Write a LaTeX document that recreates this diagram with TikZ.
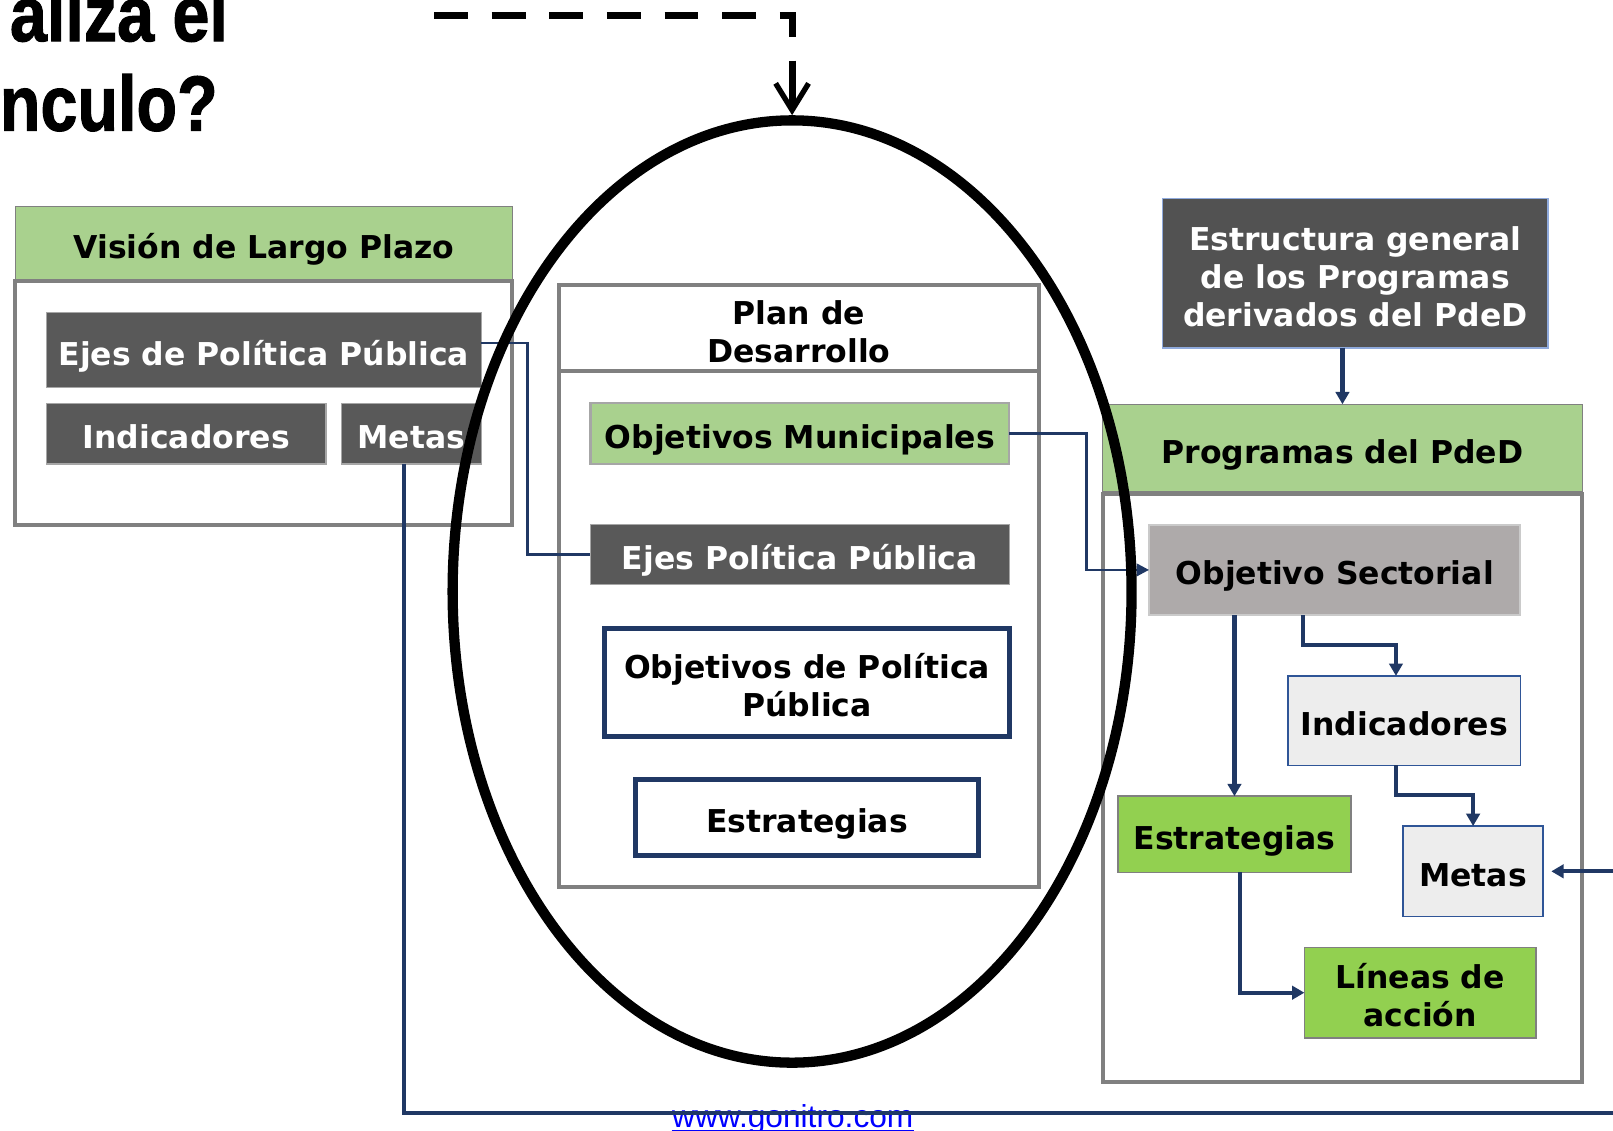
\documentclass[tikz,border=0pt]{standalone}
\usepackage{fontspec}
\usepackage{graphicx}
\setmainfont{DejaVu Sans}
\newfontfamily\headfont{Liberation Sans}[BoldFeatures={FakeBold=1.5}]
\newfontfamily\footfont{Liberation Sans}
\usetikzlibrary{arrows.meta,shapes.geometric,calc}

\definecolor{lgreen}{HTML}{A9D18E}
\definecolor{bgreen}{HTML}{92D050}
\definecolor{dkgray}{HTML}{595959}
\definecolor{stgray}{HTML}{525252}
\definecolor{sectgray}{HTML}{AEAAAA}
\definecolor{pale}{HTML}{EDEDED}
\definecolor{navy}{HTML}{203864}
\definecolor{midblue}{HTML}{2F5597}
\definecolor{skyedge}{HTML}{8FAADC}
\definecolor{framegray}{HTML}{808080}
\definecolor{thinedge}{HTML}{A6A6A6}
\definecolor{linkblue}{HTML}{0000FF}

\newcommand\boxlabel{\fontsize{15.3pt}{18.5pt}\selectfont\bfseries}
\newcommand\titlelabel{\headfont\bfseries\fontsize{38pt}{40pt}\selectfont}

% box given by its corners (x1,y1)-(x2,y2), y measured downwards;
% the label is a centred stack of lines, set slightly low as in slide text boxes
\newcommand\placebox[7]{%
  \node[#6, minimum width={(#4-#2)*0.5pt}, minimum height={(#5-#3)*0.5pt}]
    (#1) at ({(#2+#4)/2},{(#3+#5)/2})
    {\raisebox{-3.6pt}[\height][\depth]{\begin{tabular}{@{}c@{}}#7\end{tabular}}};}

\tikzset{
  base/.style={rectangle, inner sep=0pt, outer sep=0pt, align=center, font=\boxlabel},
  hdr/.style={base, fill=lgreen, draw=framegray, line width=0.6pt},
  framebox/.style={base, fill=white, draw=framegray, line width=2pt},
  darkbox/.style={base, fill=dkgray, draw=thinedge, line width=0.6pt, text=white},
  greenbox/.style={base, fill=lgreen, draw=thinedge, line width=1pt},
  navybox/.style={base, fill=white, draw=navy, line width=2.4pt},
  structbox/.style={base, fill=stgray, draw=skyedge, line width=0.8pt, text=white},
  sectbox/.style={base, fill=sectgray, draw=thinedge!60, line width=1pt},
  palebox/.style={base, fill=pale, draw=midblue, line width=0.8pt},
  limebox/.style={base, fill=bgreen, draw=framegray, line width=0.8pt},
  link/.style={draw=navy, line width=1.25pt},
  thinflow/.style={draw=navy, line width=1.25pt, -{Triangle[length=6pt,width=6pt]}},
  flow/.style={draw=navy, line width=2pt, -{Triangle[length=6pt,width=6.5pt]}},
}

\begin{document}
\begin{tikzpicture}[x=0.5pt, y=-0.5pt]
\path[use as bounding box] (0,0) rectangle (1568,1099);
\clip (0,0) rectangle (1568,1099);
\fill[white] (0,0) rectangle (1568,1099);

% footer link (partly under the return line)
\node[anchor=base west, inner sep=0pt, text=linkblue,
      font=\footfont\fontsize{15.4pt}{18pt}\selectfont] (url) at (653,1096.5) {www.gonitro.com};
\draw[linkblue, line width=1pt] ($(url.base west)+(0,2.5)$) -- ($(url.base east)+(0,2.5)$);

% long-term vision block
\placebox{visionHead}{15}{201}{498}{272}{hdr}{Visión de Largo Plazo}
\placebox{visionFrame}{15}{273}{498}{510}{framebox}{}
\placebox{ejesL}{45}{304}{468}{377}{darkbox}{Ejes de Política Pública}
\placebox{indL}{45}{392}{317}{451}{darkbox}{Indicadores}
\placebox{metasL}{332}{392}{468}{451}{darkbox}{Metas}

% development plan block
\placebox{planHead}{543}{277}{1010}{361}{framebox}{Plan de\\Desarrollo}
\placebox{planFrame}{543}{361}{1010}{862}{framebox}{}
\placebox{objMun}{574}{392}{981}{451}{greenbox}{Objetivos Municipales}
\placebox{ejesP}{574}{510}{981}{568}{darkbox}{Ejes Política Pública}
\placebox{objPol}{588}{611}{981}{716}{navybox}{Objetivos de Política\\Pública}
\placebox{estrP}{618}{758}{951}{832}{navybox}{Estrategias}

% programme block
\placebox{struct}{1130}{193}{1505}{338}{structbox}{Estructura general\\de los Programas\\derivados del PdeD}
\placebox{progHead}{1072}{393}{1538}{478}{hdr}{Programas del PdeD}
\placebox{progFrame}{1072}{480}{1538}{1052}{framebox}{}
\placebox{objSect}{1117}{510}{1478}{598}{sectbox}{Objetivo Sectorial}
\placebox{indR}{1252}{657}{1478}{744}{palebox}{Indicadores}
\placebox{metasR}{1364}{803}{1500}{891}{palebox}{Metas}
\placebox{estrR}{1087}{774}{1313}{848}{limebox}{Estrategias}
\placebox{lineas}{1268}{921}{1493}{1009}{limebox}{Líneas de\\acción}

% connectors
\draw[link] ($(ejesL.east)+(0,-7)$) -| ($(ejesP.west)+(-61,0)$) -- (ejesP.west);
\draw[thinflow] (objMun.east) -| ($(objSect.west)+(-61,0)$) -- (objSect.west);
\draw[flow] (progHead.north |- struct.south) -- (progHead.north);
\draw[flow] (estrR.north |- objSect.south) -- (estrR.north);
\draw[flow] ($(objSect.south)+(-30.5,0)$) -- ++(0,29) -| ($(indR.north)+(-8,0)$);
\draw[flow] ($(indR.south)+(-8,0)$) -- ++(0,29) -| (metasR.north);
\draw[flow] ($(estrR.south)+(5,0)$) |- (lineas.west);
\coordinate (loopCorner) at (1590,1082);
\draw[flow] ($(metasL.south)+(-7,0)$) |- (loopCorner) |- ($(metasR.east)+(8,0)$);

% highlighted plan
\node[ellipse, draw=black, line width=5pt, inner sep=0pt,
      minimum width=330pt, minimum height=458pt] (focus) at (770,575) {};
\coordinate (dashStart) at (422,15);
\coordinate (dashEnd) at (770,63);
\draw[black, line width=3.3pt, dash pattern=on 16.5pt off 11.5pt] (dashStart) -| (focus.north);
\draw[black, line width=3.3pt, -{Straight Barb[length=13pt,width=16pt,line width=2.6pt]}] (dashEnd) -- (focus.north);

% heading fragments
\node[anchor=base east, inner sep=0pt, font=\titlelabel] (titleA) at (222,40) {\scalebox{0.85}[1]{aliza el}};
\node[anchor=base east, inner sep=0pt, font=\titlelabel] (titleB) at (212,127) {\scalebox{0.85}[1]{nculo?}};
\end{tikzpicture}
\end{document}
